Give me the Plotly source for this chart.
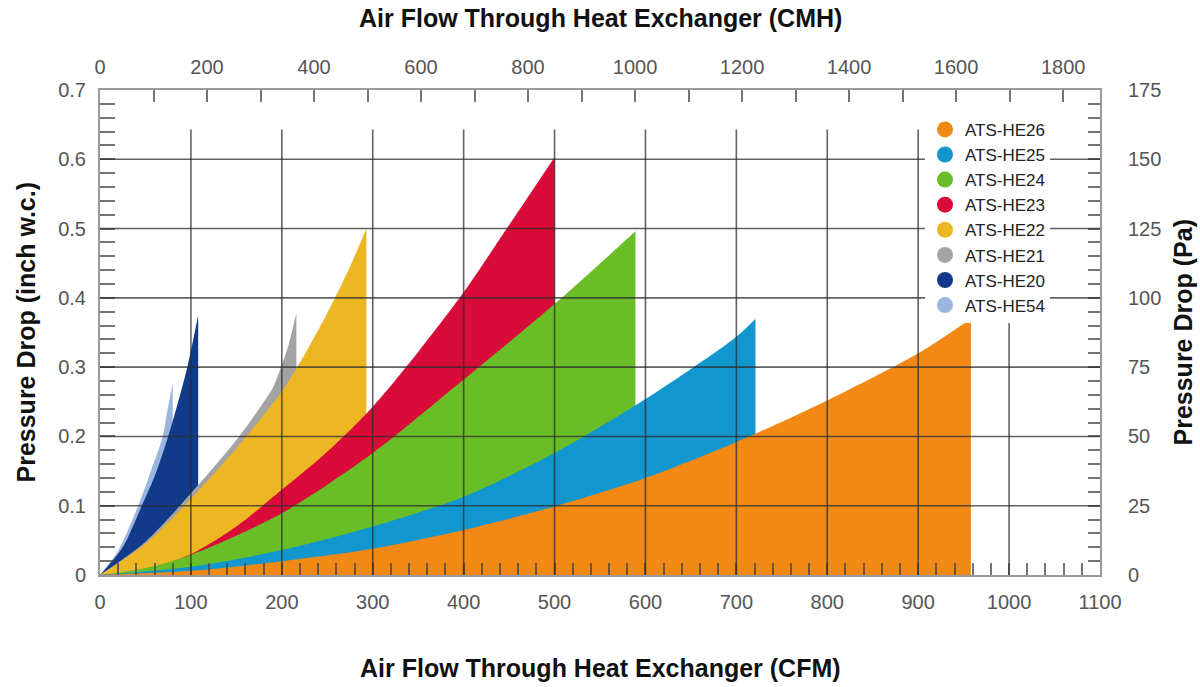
import plotly.graph_objects as go

# ---- data (CFM vs pressure drop in inch w.c.) ----
he26_x = [0, 100, 200, 300, 400, 500, 600, 700, 800, 900, 958]
he26_y = [0, 0.006, 0.020, 0.038, 0.065, 0.099, 0.140, 0.192, 0.252, 0.320, 0.370]

he25_x = [0, 100, 200, 300, 400, 500, 600, 700, 721]
he25_y = [0, 0.012, 0.036, 0.070, 0.113, 0.176, 0.254, 0.344, 0.370]

he24_x = [0, 50, 100, 200, 300, 400, 500, 589]
he24_y = [0, 0.010, 0.029, 0.089, 0.176, 0.282, 0.391, 0.496]

he23_x = [0, 50, 100, 150, 200, 250, 300, 350, 400, 450, 500]
he23_y = [0, 0.008, 0.030, 0.070, 0.123, 0.178, 0.243, 0.322, 0.408, 0.505, 0.603]

he22_x = [0, 50, 100, 150, 200, 225, 250, 275, 293]
he22_y = [0, 0.045, 0.110, 0.183, 0.265, 0.318, 0.378, 0.445, 0.500]

he21_x = [0, 50, 100, 150, 175, 190, 200, 208, 216]
he21_y = [0, 0.048, 0.118, 0.195, 0.240, 0.270, 0.303, 0.335, 0.378]

he20_x = [0, 25, 46, 60, 75, 86, 96, 108]
he20_y = [0, 0.040, 0.100, 0.142, 0.200, 0.250, 0.300, 0.375]

he54_x = [0, 20, 42, 56, 69, 74, 80]
he54_y = [0, 0.035, 0.100, 0.150, 0.200, 0.236, 0.277]

names = ["ATS-HE26", "ATS-HE25", "ATS-HE24", "ATS-HE23",
         "ATS-HE22", "ATS-HE21", "ATS-HE20", "ATS-HE54"]
colors = ["#F18914", "#1296CE", "#69BE28", "#D90B38",
          "#EDB723", "#A3A3A3", "#123A8A", "#9AB5DE"]
series_x = [he26_x, he25_x, he24_x, he23_x, he22_x, he21_x, he20_x, he54_x]
series_y = [he26_y, he25_y, he24_y, he23_y, he22_y, he21_y, he20_y, he54_y]

x_gridlines = [100, 200, 300, 400, 500, 600, 700, 800, 900, 1000]
y_gridlines = [0.1, 0.2, 0.3, 0.4, 0.5, 0.6]
CFM_TO_CMH = 1.699
FONT = "Liberation Sans, Arial, sans-serif"

fig = go.Figure()

# draw steepest first so flatter curves sit on top
for i in reversed(range(len(names))):
    fig.add_trace(go.Scatter(
        x=series_x[i], y=series_y[i], mode="lines", fill="tozeroy",
        line=dict(width=0, color=colors[i], shape="spline", smoothing=0.8),
        fillcolor=colors[i], showlegend=False, hoverinfo="skip"))

# legend entries (circles)
for i in range(len(names)):
    fig.add_trace(go.Scatter(
        x=[None], y=[None], mode="markers", name=names[i],
        marker=dict(size=18, color=colors[i], symbol="circle"),
        xaxis="x2", yaxis="y2"))

shapes = []
for gx in x_gridlines:
    shapes.append(dict(type="line", xref="x", yref="y", x0=gx, x1=gx, y0=0, y1=0.643,
                       line=dict(color="rgba(45,45,45,0.75)", width=1.6), layer="above"))
for gy in y_gridlines:
    shapes.append(dict(type="line", xref="x", yref="y", x0=0, x1=1100, y0=gy, y1=gy,
                       line=dict(color="rgba(45,45,45,0.75)", width=1.6), layer="above"))

tickfont = dict(family=FONT, size=20, color="#555555")
tickc = "rgba(70,70,70,0.75)"
linec = "#9a9a9a"

fig.update_layout(
    width=1200, height=687,
    margin=dict(l=100, r=100, t=90, b=112),
    paper_bgcolor="white", plot_bgcolor="white",
    shapes=shapes,
    xaxis=dict(range=[0, 1100], tick0=0, dtick=100, ticks="inside", ticklen=12,
               tickwidth=1.5, tickcolor=tickc,
               minor=dict(dtick=20, ticks="inside", ticklen=12, tickwidth=1.5, tickcolor=tickc),
               showline=True, linecolor=linec, linewidth=2, showgrid=False, zeroline=False,
               tickfont=tickfont, ticklabelstandoff=8, layer="above traces"),
    yaxis=dict(range=[0, 0.7], tick0=0, dtick=0.1, ticks="inside", ticklen=15,
               tickwidth=1.5, tickcolor=tickc,
               minor=dict(dtick=0.02, ticks="inside", ticklen=15, tickwidth=1.5, tickcolor=tickc),
               showline=True, linecolor=linec, linewidth=2, showgrid=False, zeroline=False,
               tickfont=tickfont, ticklabelstandoff=8, layer="above traces"),
    xaxis2=dict(overlaying="x", side="top", range=[0, 1100 * CFM_TO_CMH], tick0=0, dtick=200,
                ticks="inside", ticklen=12, tickwidth=1.5, tickcolor=tickc,
                minor=dict(dtick=100, ticks="inside", ticklen=12, tickwidth=1.5, tickcolor=tickc),
                showline=True, linecolor=linec, linewidth=2, showgrid=False, zeroline=False,
                tickfont=tickfont, ticklabelstandoff=6, layer="above traces"),
    yaxis2=dict(overlaying="y", side="right", range=[0, 175], tick0=0, dtick=25,
                ticks="inside", ticklen=12, tickwidth=1.5, tickcolor=tickc,
                minor=dict(dtick=5, ticks="inside", ticklen=12, tickwidth=1.5, tickcolor=tickc),
                showline=True, linecolor=linec, linewidth=2, showgrid=False, zeroline=False,
                tickfont=tickfont, ticklabelstandoff=22, layer="above traces"),
    legend=dict(x=0.825, y=0.955, xanchor="left", yanchor="top", bgcolor="white",
                font=dict(family=FONT, size=17, color="#222222"), traceorder="normal",
                borderwidth=0, tracegroupgap=0),
    annotations=[
        dict(text="<b>Air Flow Through Heat Exchanger (CMH)</b>", xref="paper", yref="paper",
             x=0.5, y=1.148, xanchor="center", yanchor="middle", showarrow=False,
             font=dict(family=FONT, size=25, color="#111111")),
        dict(text="<b>Air Flow Through Heat Exchanger (CFM)</b>", xref="paper", yref="paper",
             x=0.5, y=-0.192, xanchor="center", yanchor="middle", showarrow=False,
             font=dict(family=FONT, size=25, color="#111111")),
        dict(text="<b>Pressure Drop (inch w.c.)</b>", xref="paper", yref="paper",
             x=-0.075, y=0.5, xanchor="center", yanchor="middle", showarrow=False, textangle=-90,
             font=dict(family=FONT, size=25, color="#111111")),
        dict(text="<b>Pressure Drop (Pa)</b>", xref="paper", yref="paper",
             x=1.082, y=0.5, xanchor="center", yanchor="middle", showarrow=False, textangle=-90,
             font=dict(family=FONT, size=25, color="#111111")),
    ],
)

fig.write_html("out.html", config={"displayModeBar": False},
               post_script="document.body.style.margin='0';document.body.style.overflow='hidden';")
